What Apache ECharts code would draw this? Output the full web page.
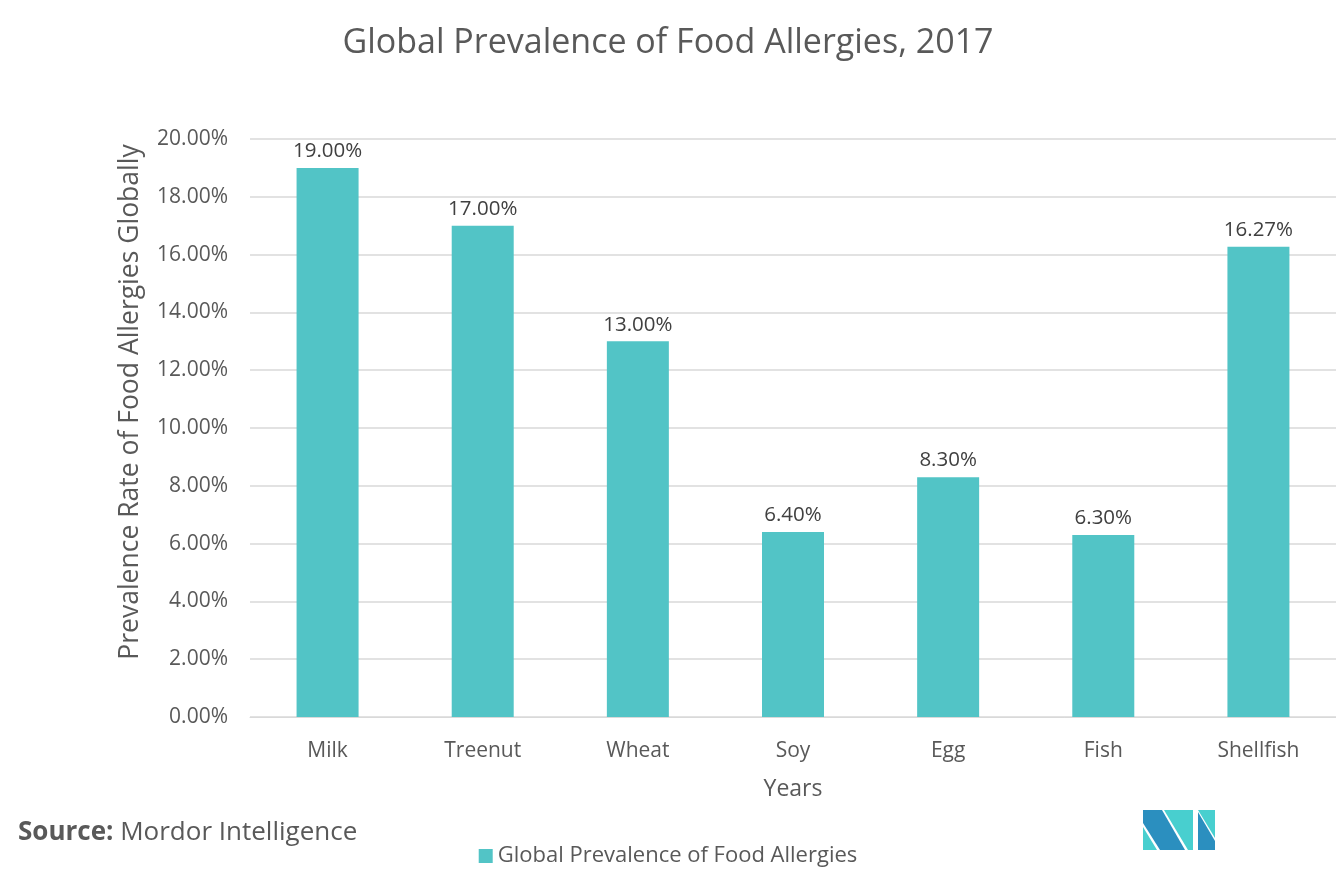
<!DOCTYPE html>
<html>
<head>
<meta charset="utf-8">
<title>Global Prevalence of Food Allergies, 2017</title>
<script src="https://cdn.jsdelivr.net/npm/echarts@6/dist/echarts.min.js"></script>
<style>
  html, body { margin: 0; padding: 0; background: #fff; }
  #chart { width: 1336px; height: 889px; }
</style>
</head>
<body>
<div id="chart"></div>
<script>
// data
const categories = ["Milk", "Treenut", "Wheat", "Soy", "Egg", "Fish", "Shellfish"];
const prevalence = [19.0, 17.0, 13.0, 6.4, 8.3, 6.3, 16.27];
const seriesName = "Global Prevalence of Food Allergies";

const FONT = "'Open Sans', 'Noto Sans', sans-serif";
const TEXT_GREY = "#595959";

const chart = echarts.init(document.getElementById("chart"));

chart.setOption({
  backgroundColor: "#fff",
  animation: false,
  textStyle: { fontFamily: FONT },
  title: {
    text: "Global Prevalence of Food Allergies, 2017",
    left: "center",
    top: 21,
    textStyle: { fontSize: 34, fontWeight: "normal", color: TEXT_GREY, fontFamily: FONT },
  },
  grid: { left: 250, right: 0, top: 139, bottom: 172 },
  legend: {
    data: [seriesName],
    bottom: 17,
    left: "center",
    icon: "rect",
    itemWidth: 14,
    itemHeight: 14,
    textStyle: { fontSize: 22, color: TEXT_GREY, fontFamily: FONT },
  },
  xAxis: {
    type: "category",
    data: categories,
    name: "Years",
    nameLocation: "middle",
    nameGap: 61,
    nameTextStyle: { fontSize: 23, color: TEXT_GREY, fontFamily: FONT },
    axisLine: { show: true, lineStyle: { color: "#d9d9d9", width: 1 } },
    axisTick: { show: false },
    axisLabel: { fontSize: 21, color: TEXT_GREY, margin: 24, fontFamily: FONT },
  },
  yAxis: {
    type: "value",
    min: 0,
    max: 20,
    interval: 2,
    name: "Prevalence Rate of Food Allergies Globally",
    nameLocation: "middle",
    nameGap: 106,
    nameTextStyle: { fontSize: 26.5, color: TEXT_GREY, fontFamily: FONT, padding: [0, 0, 0, 52] },
    axisLine: { show: false },
    axisTick: { show: false },
    axisLabel: {
      fontSize: 21,
      color: TEXT_GREY,
      margin: 22,
      fontFamily: FONT,
      formatter: (v) => v.toFixed(2) + "%",
    },
    splitLine: { show: true, lineStyle: { color: "#d9d9d9", width: 1.5 } },
  },
  series: [
    {
      name: seriesName,
      type: "bar",
      data: prevalence,
      barWidth: 62,
      itemStyle: { color: "#52C4C6" },
      label: {
        show: true,
        position: "top",
        distance: 6,
        fontSize: 20.5,
        color: "#404040",
        fontFamily: FONT,
        formatter: (p) => p.value.toFixed(2) + "%",
      },
    },
  ],
  graphic: [
    {
      type: "text",
      left: 18,
      top: 820,
      style: {
        text: "{b|Source: }{n|Mordor Intelligence}",
        rich: {
          b: { fontSize: 26, fontWeight: "bold", fill: TEXT_GREY, fontFamily: FONT },
          n: { fontSize: 26, fill: TEXT_GREY, fontFamily: FONT },
        },
      },
    },
    // logo
    { type: "polygon", shape: { points: [[1143, 810], [1162, 810], [1185, 850], [1160, 850], [1143, 823]] }, style: { fill: "#2B8FBF" } },
    { type: "polygon", shape: { points: [[1143, 827], [1143, 850], [1157, 850]] }, style: { fill: "#48CFCF" } },
    { type: "polygon", shape: { points: [[1164, 810], [1193, 810], [1193, 850], [1188, 850]] }, style: { fill: "#48CFCF" } },
    { type: "polygon", shape: { points: [[1198, 810], [1215, 810], [1215, 838]] }, style: { fill: "#48CFCF" } },
    { type: "polygon", shape: { points: [[1198, 812], [1215, 841], [1215, 850], [1198, 850]] }, style: { fill: "#2B8FBF" } },
  ],
});
</script>
</body>
</html>
